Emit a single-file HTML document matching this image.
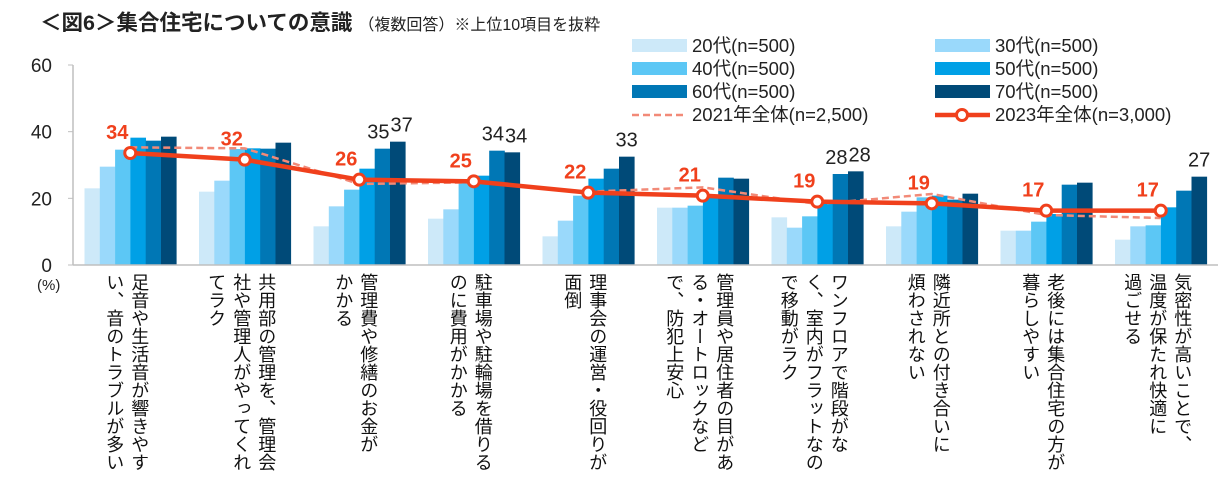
<!DOCTYPE html>
<html><head><meta charset="utf-8">
<style>
body{margin:0;background:#fff;width:1218px;height:484px;overflow:hidden;font-family:"Liberation Sans","Noto Sans CJK JP",sans-serif;}
svg text{font-family:"Liberation Sans","Noto Sans CJK JP",sans-serif;}
.cat{position:absolute;top:273px;writing-mode:vertical-rl;font-size:18px;line-height:25px;color:#111;font-family:"Noto Sans CJK JP",sans-serif;white-space:pre;}
</style></head><body>
<svg id="chart" width="1218" height="484" style="position:absolute;left:0;top:0">
<text x="40" y="30" font-size="21.5" font-weight="bold" fill="#222">＜図6＞集合住宅についての意識<tspan font-size="16" font-weight="normal" dx="6">（複数回答）※上位10項目を抜粋</tspan></text>
</svg>
<div id="cats"></div>
<script>
const categories=["足音や生活音が響きやす\nい、音のトラブルが多い","共用部の管理を、管理会\n社や管理人がやってくれ\nてラク","管理費や修繕のお金が\nかかる","駐車場や駐輪場を借りる\nのに費用がかかる","理事会の運営・役回りが\n面倒","管理員や居住者の目があ\nる・オートロックなど\nで、防犯上安心","ワンフロアで階段がな\nく、室内がフラットなの\nで移動がラク","隣近所との付き合いに\n煩わされない","老後には集合住宅の方が\n暮らしやすい","気密性が高いことで、\n温度が保たれ快適に\n過ごせる"];
const s20=[23,22,11.6,13.9,8.6,17.2,14.3,11.6,10.3,7.6];
const s30=[29.5,25.3,17.6,16.7,13.3,17.2,11.2,16,10.3,11.6];
const s40=[34.6,34.8,22.6,25.3,20.8,17.8,14.6,20.3,13,11.9];
const s50=[38.2,35,28.9,26.8,25.9,20.5,18.3,20.8,15.3,17.3];
const s60=[37.3,34.9,34.9,34.3,28.9,26.2,27.3,19.6,24.1,22.3];
const s70=[38.5,36.7,37,33.8,32.5,25.9,28.1,21.4,24.7,26.5];
const total2021=[35.3,35,24.3,24.8,22,23.3,18.3,21.3,15,14.1];
const total2023=[33.6,31.6,25.6,25.1,21.7,20.8,19,18.5,16.3,16.3];
const labels2023=["34","32","26","25","22","21","19","19","17","17"];
const barLabels=[[],[],[[4,"35"],[5,"37"]],[[4,"34"],[5,"34"]],[[5,"33"]],[],[[4,"28"],[5,"28"]],[],[],[[5,"27"]]];
const yTicks=[0,20,40,60];
const seriesNames=["20代(n=500)","30代(n=500)","40代(n=500)","50代(n=500)","60代(n=500)","70代(n=500)"];
const colors=["#cde9f9","#9ad9fb","#5cc7f5","#00a0e6","#0077b5","#004a78"];
const NS="http://www.w3.org/2000/svg";
const svg=document.getElementById('chart');
const X0=73,GW=114.5,Y0=265,PXU=200/60,BW=15.3,BOFF=11.5;
const y=v=>Y0-v*PXU;
const gx=i=>X0+i*GW;
function el(t,a){const e=document.createElementNS(NS,t);for(const k in a)e.setAttribute(k,a[k]);svg.appendChild(e);return e;}
const ya=el('line',{x1:X0,y1:65,x2:X0,y2:Y0,stroke:'#bfbfbf','stroke-width':1.5});


yTicks.forEach(t=>{const tk=el('line',{x1:X0-5,y1:y(t),x2:X0,y2:y(t),stroke:'#bfbfbf'});


const tx=el('text',{x:52,y:y(t)+7,'font-size':19,'text-anchor':'end',fill:'#222'});tx.textContent=t;

});
const pct=el('text',{x:37,y:290,'font-size':15,fill:'#222'});pct.textContent='(%)';


const series=[s20,s30,s40,s50,s60,s70];
series.forEach((s,k)=>s.forEach((v,i)=>{const r=el('rect',{x:gx(i)+BOFF+k*BW,y:y(v),width:BW+0.3,height:v*PXU,fill:colors[k]});

}));
const xa=el('line',{x1:X0,y1:Y0,x2:1218,y2:Y0,stroke:'#bfbfbf','stroke-width':1.5});


barLabels.forEach((arr,i)=>arr.forEach(([k,t])=>{const v=series[k][i];const tx=el('text',{x:gx(i)+BOFF+k*BW+BW/2+(k==4?-4:(arr.length>1?4:0)),y:y(v)-10,'font-size':20,'text-anchor':'middle',fill:'#222'});tx.textContent=t;

}));
const cx=i=>gx(i)+GW/2;
const d21=el('polyline',{points:total2021.map((v,i)=>cx(i)+','+y(v)).join(' '),fill:'none',stroke:'#f28a78','stroke-width':2.5,'stroke-dasharray':'7,4'});


const l23=el('polyline',{points:total2023.map((v,i)=>cx(i)+','+y(v)).join(' '),fill:'none',stroke:'#f0401c','stroke-width':4.5});


total2023.forEach((v,i)=>{const c=el('circle',{cx:cx(i),cy:y(v),r:5.5,fill:'#fff',stroke:'#f0401c','stroke-width':3});


const tx=el('text',{x:cx(i)-13,y:y(v)-14,'font-size':20,'font-weight':'bold','text-anchor':'middle',fill:'#f0401c'});tx.textContent=labels2023[i];

});
const legX=[632,935],legY=[46,69,92,115];
seriesNames.forEach((n,k)=>{const lx=legX[k%2],ly=legY[Math.floor(k/2)];
const r=el('rect',{x:lx,y:ly-7,width:55,height:13,fill:colors[k]});


const t=el('text',{x:lx+60,y:ly+6,'font-size':18.5,fill:'#222'});t.textContent=n;

});
{const ly=legY[3];
const a=el('line',{x1:632,y1:ly,x2:687,y2:ly,stroke:'#f28a78','stroke-width':2.5,'stroke-dasharray':'7,4'});


const t=el('text',{x:692,y:ly+6,'font-size':18.5,fill:'#222'});t.textContent='2021年全体(n=2,500)';


const b=el('line',{x1:935,y1:ly,x2:990,y2:ly,stroke:'#f0401c','stroke-width':4.5});


const c=el('circle',{cx:962,cy:ly,r:5.5,fill:'#fff',stroke:'#f0401c','stroke-width':3});


const t2=el('text',{x:995,y:ly+6,'font-size':18.5,fill:'#222'});t2.textContent='2023年全体(n=3,000)';

}
const cats=document.getElementById('cats');
categories.forEach((c,i)=>{const d=document.createElement('div');d.className='cat';d.textContent=c;
const cols=c.split('\n').length;d.style.left=(cx(i)-3-cols*12.5)+'px';


cats.appendChild(d);});
</script>
</body></html>
